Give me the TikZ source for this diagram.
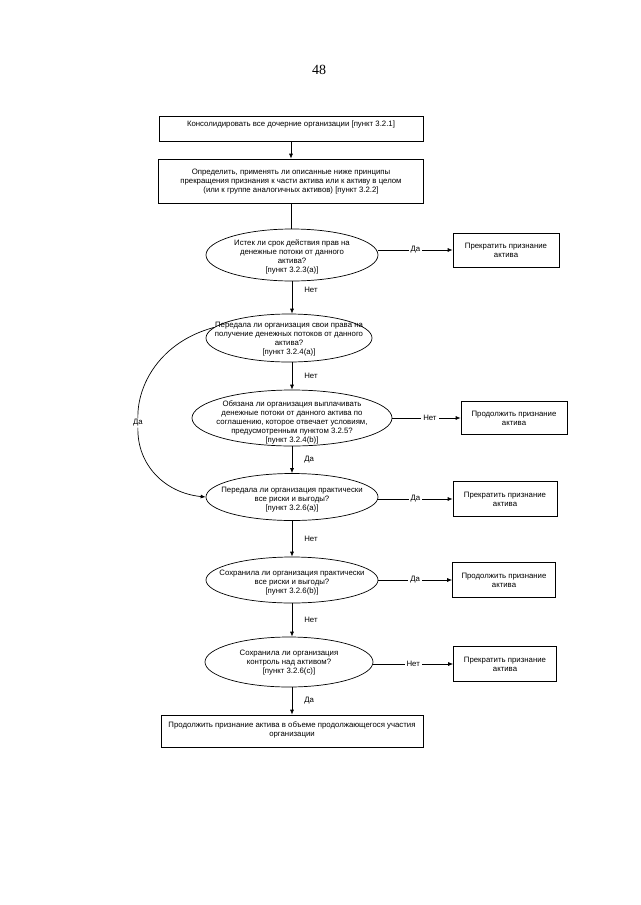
\documentclass[tikz,border=0pt]{standalone}
\usepackage{fontspec}
\setmainfont{Liberation Sans}
\newfontfamily\pagenumfont{Liberation Serif}
\usetikzlibrary{shapes.geometric,arrows.meta}
\begin{document}
\begin{tikzpicture}[x=1pt,y=-1pt,
  every node/.style={font=\fontsize{7.8}{9}\selectfont},
  frame/.style={draw, line width=0.7pt, inner sep=0pt},
  oval/.style={draw, ellipse, line width=0.7pt, inner sep=0pt},
  txt/.style={align=center, inner sep=0pt},
  arr/.style={line width=0.7pt, -{Latex[length=5pt,width=4pt]}},
  ln/.style={line width=0.7pt},
  lab/.style={fill=white, inner sep=2pt},
  vlab/.style={right=11pt, inner sep=1pt}]
\fill[white] (0,0) rectangle (640,905);
\useasboundingbox (0,0) rectangle (640,905);

\node[font=\pagenumfont\fontsize{14}{14}\selectfont] (pg) at (319,70) {48};

% top boxes
\node[frame, minimum width=264pt, minimum height=25pt] (b1) at (291,129) {};
\node[txt] (t1) at (291,124) {Консолидировать все дочерние организации [пункт 3.2.1]};

\node[frame, minimum width=265pt, minimum height=44pt] (b2) at (291,181) {};
\node[txt] (t2) at (291,182) {Определить, применять ли описанные ниже принципы\\прекращения признания к части актива или к активу в целом\\(или к группе аналогичных активов) [пункт 3.2.2]};

% ellipses
\node[oval, minimum width=172pt, minimum height=52pt] (e1) at (292,255) {};
\node[txt] (te1) at (292,257) {Истек ли срок действия прав на\\денежные потоки от данного\\актива?\\{}[пункт 3.2.3(a)]};

\node[oval, minimum width=166pt, minimum height=48pt] (e2) at (289,338) {};
\node[txt] (te2) at (289,339) {Передала ли организация свои права на\\получение денежных потоков от данного\\актива?\\{}[пункт 3.2.4(a)]};

\node[oval, minimum width=200pt, minimum height=56pt] (e3) at (292,418) {};
\node[txt] (te3) at (292,422) {Обязана ли организация выплачивать\\денежные потоки от данного актива по\\соглашению, которое отвечает условиям,\\предусмотренным пунктом 3.2.5?\\{}[пункт 3.2.4(b)]};

\node[oval, minimum width=172pt, minimum height=47pt] (e4) at (292,497) {};
\node[txt] (te4) at (292,500) {Передала ли организация практически\\все риски и выгоды?\\{}[пункт 3.2.6(a)]};

\node[oval, minimum width=172pt, minimum height=46pt] (e5) at (292,580) {};
\node[txt] (te5) at (292,583) {Сохранила ли организация практически\\все риски и выгоды?\\{}[пункт 3.2.6(b)]};

\node[oval, minimum width=168pt, minimum height=50pt] (e6) at (289,662) {};
\node[txt] (te6) at (289,663) {Сохранила ли организация\\контроль над активом?\\{}[пункт 3.2.6(c)]};

% final box
\node[frame, minimum width=262pt, minimum height=32pt] (bf) at (292,731) {};
\node[txt] (tf) at (292,730) {Продолжить признание актива в объеме продолжающегося участия\\организации};

% right boxes
\node[frame, minimum width=106pt, minimum height=34pt, align=center] (r1) at (506,250) {Прекратить признание\\актива};
\node[frame, minimum width=106pt, minimum height=33pt, align=center] (r2) at (514,418) {Продолжить признание\\актива};
\node[frame, minimum width=104pt, minimum height=35pt, align=center] (r3) at (505,499) {Прекратить признание\\актива};
\node[frame, minimum width=103pt, minimum height=35pt, align=center] (r4) at (504,580) {Продолжить признание\\актива};
\node[frame, minimum width=103pt, minimum height=35pt, align=center] (r5) at (505,664) {Прекратить признание\\актива};

% vertical connectors
\draw[arr] (b1) -- (b2);
\draw[ln] (b2) -- (b2.south |- e1.north);
\draw[arr] (e1.south) -- node[vlab, pos=0.25]{Нет} (e1.south |- e2.north);
\draw[arr] (e1.south |- e2.south) -- node[vlab]{Нет} (e3.north);
\draw[arr] (e3.south) -- node[vlab]{Да} (e4.north);
\draw[arr] (e4.south) -- node[vlab]{Нет} (e5.north);
\draw[arr] (e5.south) -- node[vlab]{Нет} (e5.south |- e6.north);
\draw[arr] (e5.south |- e6.south) -- node[vlab]{Да} (bf.north);

% horizontal connectors
\draw[arr] (e1.east |- r1.west) -- node[lab]{Да} (r1.west);
\draw[arr] (e3.east |- r2.west) -- node[lab, pos=0.55]{Нет} (r2.west);
\draw[arr] (e4.east |- r3.west) -- node[lab]{Да} (r3.west);
\draw[arr] (e5.east |- r4.west) -- node[lab]{Да} (r4.west);
\draw[arr] (e6.east |- r5.west) -- node[lab]{Нет} (r5.west);

% left arc
\node[inner sep=1pt] (da) at (138,423) {Да};
\draw[ln] (e2.172) .. controls (160,342) and (137,385) .. (da);
\draw[arr] (da) .. controls (137,465) and (165,493) .. (e4.west);
\end{tikzpicture}
\end{document}
